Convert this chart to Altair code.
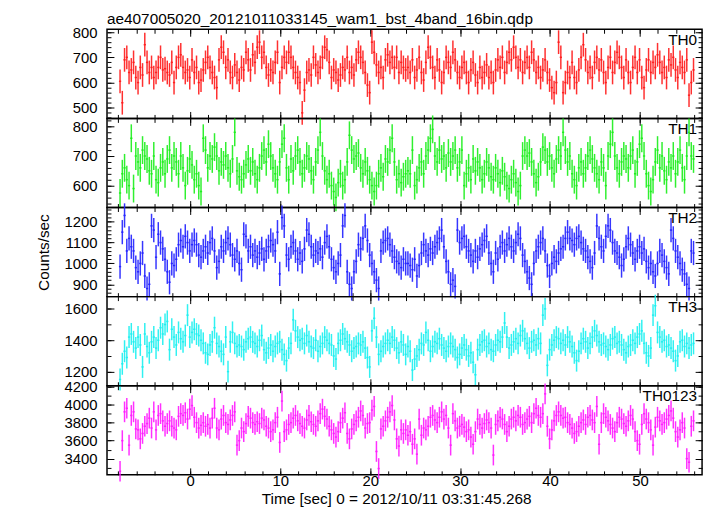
import altair as alt
import pandas as pd

TITLE = "ae407005020_20121011033145_wam1_bst_4band_16bin.qdp"
X_TITLE = "Time [sec] 0 = 2012/10/11 03:31:45.268"
Y_TITLE = "Counts/sec"

T_START = -7.8
BIN = 0.25
X_DOMAIN = [-9.25, 56.9]
X_MAJOR = [0, 10, 20, 30, 40, 50]
X_MINOR = [-8, -6, -4, -2, 0, 2, 4, 6, 8, 10, 12, 14, 16, 18, 20, 22, 24, 26, 28, 30,
           32, 34, 36, 38, 40, 42, 44, 46, 48, 50, 52, 54, 56]

band_names = ["TH0", "TH1", "TH2", "TH3", "TH0123"]
band_colors = ["#ff1a1a", "#1aee1a", "#2020ff", "#1af0f0", "#ff1aff"]
band_errors = [47, 47, 58, 70, 115]
y_domains = [[458, 811], [526, 827], [841, 1268], [1110, 1678], [3220, 4210]]
y_major = [[500, 600, 700, 800], [600, 700, 800], [900, 1000, 1100, 1200],
           [1200, 1400, 1600], [3400, 3600, 3800, 4000, 4200]]
y_minor_step = [20, 20, 20, 100, 100]

th0 = [605,520,690,700,640,650,680,620,600,660,
       630,750,680,640,660,620,640,660,700,650,
       655,640,630,680,600,660,700,710,660,640,
       650,620,690,640,660,600,610,650,680,700,
       660,640,620,580,690,740,720,660,690,640,
       620,670,640,610,660,650,720,690,650,710,
       680,740,760,700,720,660,630,650,640,680,
       720,600,660,700,680,720,700,660,640,620,
       600,480,570,640,650,630,700,670,640,660,
       700,740,730,680,620,650,640,610,630,660,
       650,700,640,660,630,690,720,700,680,640,
       590,560,760,720,670,640,660,620,690,710,
       680,700,660,700,640,680,660,650,
       660,640,690,620,650,700,640,610,680,740,
       700,660,620,690,650,600,640,700,680,660,
       720,690,640,620,660,680,640,600,650,680,
       630,600,660,620,640,670,620,640,600,650,
       690,660,700,640,680,720,690,740,700,660,
       690,640,680,700,660,720,690,640,660,620,
       650,690,640,610,580,560,600,760,700,560,
       600,640,620,680,620,600,650,700,750,690,
       640,660,620,680,700,650,690,640,600,660,
       700,640,680,720,700,660,620,690,640,600,
       660,700,640,690,620,580,650,690,640,680,
       660,710,680,640,660,620,690,670,700,650,
       620,680,660,640,690,550,600,650]

th1 = [575,640,660,620,600,760,590,700,680,660,
       720,700,690,650,640,700,620,610,660,680,
       640,690,720,660,700,680,640,700,660,600,
       650,690,670,620,640,600,580,760,720,660,
       700,690,730,700,650,680,670,700,660,640,
       690,780,650,630,620,640,670,690,650,680,
       640,620,660,700,720,680,740,700,660,640,
       620,680,740,760,660,620,690,650,700,720,
       680,640,660,700,690,650,620,680,720,780,
       700,650,620,640,600,580,560,610,640,600,
       620,680,770,720,690,700,710,660,640,680,
       650,620,600,580,600,640,660,630,690,680,
       720,760,680,620,640,610,630,640,
       650,640,720,600,620,660,680,640,700,720,
       760,790,700,680,720,690,700,660,710,680,
       700,720,660,680,720,600,640,660,620,690,
       650,680,660,620,640,680,660,630,620,660,
       640,610,650,630,600,590,620,640,610,580,
       600,700,720,700,710,680,640,610,630,680,
       730,720,680,700,660,640,690,720,700,780,
       720,680,700,640,620,600,660,680,640,660,
       700,720,690,660,640,620,680,660,600,700,
       740,780,700,660,640,680,700,690,660,700,
       720,640,680,740,760,700,640,600,580,620,
       680,720,660,700,650,620,680,660,700,640,
       680,720,660,620,700,780,700,690]

th2 = [985,1150,1230,1060,1120,1080,1060,980,960,1000,
       1050,940,880,900,1180,1160,1030,1140,1100,1070,
       1020,960,910,1000,990,1020,1090,1110,1080,1130,
       1100,1060,1090,1110,1090,1040,1030,1060,1080,1050,
       1100,1120,1060,980,1010,1080,1060,1100,1120,1090,
       1040,1020,1060,1000,970,1140,1130,1060,1080,1040,
       1060,1030,1050,1070,1020,1060,1080,1110,1090,1060,
       1150,950,1220,1180,1040,1020,1080,1100,1060,1020,
       1050,1010,1070,1160,1140,1080,1040,1060,1050,1070,
       1030,1100,1130,1080,1020,980,960,1000,1040,1180,
       1230,960,900,880,960,1010,1090,1070,1120,1180,
       1110,1040,1000,960,920,880,1060,1100,1110,1120,
       1090,1060,1030,1010,1000,980,1020,1000,
       1000,990,970,1020,940,990,1050,1090,1060,1040,
       1070,1050,1080,1100,1120,1160,1080,1010,960,900,
       920,890,1160,1100,1120,1130,1080,1060,1040,1010,
       1060,1030,1070,1090,1110,1130,1050,1000,960,1050,
       1020,1080,1100,1060,1090,1120,1080,1060,1100,1140,
       1120,1040,1010,960,930,900,1000,1060,1080,1100,
       1120,1060,990,940,1000,1030,1010,1050,1070,1080,
       1120,1150,1120,1110,1090,1120,1130,1100,1070,1060,
       1030,1010,980,1050,1180,1120,1080,1060,1130,1180,
       1160,1100,1060,1050,1030,990,1020,1080,1120,1090,
       1050,1020,1060,1080,1050,1070,1010,980,1000,960,
       940,1000,1060,1040,1010,980,950,1160,1120,1060,
       1030,1000,970,950,900,880,1060,1050]

th3 = [1150,1250,1330,1290,1420,1440,1390,1350,1420,1370,
       1230,1440,1360,1320,1390,1420,1350,1400,1480,1440,
       1500,1520,1340,1470,1420,1370,1450,1410,1390,1430,
       1560,1420,1450,1470,1440,1430,1400,1380,1320,1310,
       1370,1390,1480,1380,1360,1330,1310,1420,1200,1390,
       1450,1380,1360,1370,1360,1340,1390,1410,1420,1390,
       1380,1360,1400,1430,1340,1320,1350,1370,1330,1360,
       1380,1390,1340,1310,1270,1350,1380,1530,1460,1420,
       1400,1410,1380,1430,1390,1360,1350,1400,1330,1360,
       1380,1420,1400,1380,1370,1300,1280,1380,1400,1440,
       1410,1390,1370,1330,1350,1360,1380,1370,1390,1350,
       1290,1230,1460,1540,1420,1310,1330,1360,1380,1400,
       1380,1420,1400,1350,1320,1390,1370,1310,
       1360,1330,1210,1280,1300,1340,1380,1370,1450,1400,
       1330,1360,1390,1380,1410,1370,1350,1330,1360,1380,
       1360,1340,1290,1310,1350,1370,1340,1300,1320,1260,
       1180,1340,1370,1390,1400,1360,1380,1340,1330,1370,
       1400,1390,1420,1510,1420,1350,1370,1390,1410,1380,
       1430,1460,1410,1380,1350,1390,1400,1370,1410,1380,
       1560,1600,1240,1340,1370,1400,1420,1410,1380,1400,
       1370,1420,1390,1360,1320,1270,1330,1380,1410,1390,
       1350,1380,1420,1460,1430,1390,1370,1380,1360,1340,
       1370,1410,1420,1380,1390,1370,1340,1320,1360,1370,
       1400,1380,1420,1440,1460,1380,1320,1300,1350,1560,
       1620,1450,1420,1390,1400,1360,1370,1350,1330,1270,
       1300,1390,1400,1360,1380,1350,1370,1380]

th0123 = [3260,3600,3920,3960,3550,3880,3920,3730,3720,3620,
          3680,3760,3790,3850,3740,3920,3720,3880,3900,3820,
          3760,3790,3820,3760,3740,3720,3870,3900,3880,3910,
          3840,3950,3990,3860,3800,3740,3770,3800,3760,3780,
          3740,3850,3960,3740,3720,3840,3880,3800,3780,3830,
          3880,3920,3550,3600,3740,3700,3790,3870,3850,3800,
          3780,3810,3790,3850,3830,3760,3740,3700,3720,3800,
          3860,3580,4040,3700,3720,3780,3800,3850,3880,3820,
          3790,3760,3740,3830,3880,3810,3780,3760,3820,3900,
          3950,3870,3840,3760,3720,3680,3640,3700,3800,3850,
          3910,3680,3620,3730,3780,3820,3860,3930,3880,3740,
          3790,3800,3940,3980,3480,3290,3730,3760,3820,3860,
          3920,3990,3830,3620,3540,3720,3680,3720,
          3660,3700,3560,3620,3450,3840,3660,3740,3720,3760,
          3860,3880,3830,3800,3860,3920,3840,3880,3740,3550,
          3900,3820,3740,3760,3780,3750,3700,3720,3640,3560,
          3700,3840,3780,3740,3790,3830,3800,3740,3440,3780,
          3820,3860,3840,3780,3700,3760,3840,3860,3820,3880,
          3860,3780,3800,3840,3870,3800,3900,3960,3880,3860,
          3900,4120,3760,3620,3720,3820,3880,3920,3880,3850,
          3860,3800,3780,3740,3680,3700,3760,3800,3830,3780,
          3860,3880,3830,3800,3980,3560,3800,3900,3860,3820,
          3780,3740,3700,3800,3860,3840,3790,3760,3820,3880,
          3840,3700,3600,3560,3780,3900,3840,3800,3720,3550,
          3750,3860,3820,3780,3800,3840,3880,3930,3850,3700,
          3640,3720,3800,3740,3400,3360,3760,3820]

series = [th0, th1, th2, th3, th0123]

W, H = 601, 90
MAJ, MIN = 7, 4
FONT = "Liberation Sans"
FS = 15


def axis(orient, values, size, **kw):
    opts = dict(orient=orient, values=values, tickSize=size, offset=-size,
                domain=False, grid=False, ticks=True, tickColor="#000",
                tickWidth=1, labelOverlap=False, labelFlush=False,
                labelFont=FONT, titleFont=FONT, labelColor="#000",
                titleColor="#000", format="d")
    opts.update(kw)
    if "labels" not in opts:
        opts["labels"] = False
    if "title" not in opts:
        opts["title"] = None
    return alt.Axis(**opts)


def make_panel(k):
    vals = series[k]
    n = len(vals)
    err = band_errors[k]
    df = pd.DataFrame({"t": [T_START + BIN * i for i in range(n)], "v": vals})
    df["lo"] = df["v"] - err
    df["hi"] = df["v"] + err
    df["ta"] = df["t"] - BIN / 2
    df["tb"] = df["t"] + BIN / 2

    lo_d, hi_d = y_domains[k]
    step = y_minor_step[k]
    first = ((lo_d // step) + 1) * step
    minor_y = list(range(int(first), int(hi_d) + 1, step))

    xs = alt.Scale(domain=X_DOMAIN, nice=False, zero=False)
    ys = alt.Scale(domain=y_domains[k], nice=False, zero=False)
    last = k == len(series) - 1
    mid = k == 2
    color = band_colors[k]

    left_kw = dict(labels=True, labelPadding=10, labelFontSize=FS)
    if mid:
        left_kw.update(title=Y_TITLE, titlePadding=13, titleFontSize=15.5,
                       titleFontWeight="normal")
    bottom_kw = {}
    if last:
        bottom_kw = dict(labels=True, labelPadding=-1, labelFontSize=FS,
                         title=X_TITLE, titlePadding=3, titleFontSize=15.5,
                         titleFontWeight="normal", titleX=292)

    yerr = alt.Chart(df).mark_rule(color=color, strokeWidth=1.5, opacity=0.9).encode(
        x=alt.X("t:Q", scale=xs, axis=axis("bottom", X_MAJOR, MAJ, **bottom_kw)),
        y=alt.Y("lo:Q", scale=ys, axis=axis("left", y_major[k], MAJ, **left_kw)),
        y2="hi:Q",
    )
    xerr = alt.Chart(df).mark_rule(color=color, strokeWidth=1.5, opacity=0.9).encode(
        x=alt.X("ta:Q", scale=xs, axis=axis("top", X_MAJOR, MAJ)),
        x2="tb:Q",
        y=alt.Y("v:Q", scale=ys, axis=axis("right", y_major[k], MAJ)),
    )
    one = pd.DataFrame({"t": [X_MAJOR[1]], "v": [y_major[k][0]]})
    minor_a = alt.Chart(one).mark_point(opacity=0).encode(
        x=alt.X("t:Q", scale=xs, axis=axis("bottom", X_MINOR, MIN)),
        y=alt.Y("v:Q", scale=ys, axis=axis("left", minor_y, MIN)),
    )
    minor_b = alt.Chart(one).mark_point(opacity=0).encode(
        x=alt.X("t:Q", scale=xs, axis=axis("top", X_MINOR, MIN)),
        y=alt.Y("v:Q", scale=ys, axis=axis("right", minor_y, MIN)),
    )
    label = alt.Chart(pd.DataFrame({"label": [band_names[k]]})).mark_text(
        align="right", baseline="middle", fontSize=15.5, font=FONT, color="#000"
    ).encode(text="label:N", x=alt.value(W - 5), y=alt.value(10.5))

    panel = alt.layer(yerr, xerr, minor_a, minor_b, label).resolve_axis(
        x="independent", y="independent"
    ).properties(width=W, height=H)
    if k == 0:
        panel = panel.properties(title=alt.TitleParams(
            TITLE, anchor="start", frame="group", fontSize=15.5, font=FONT,
            fontWeight="normal", offset=-2, color="#000"))
    return panel


panels = [make_panel(k) for k in range(len(series))]

chart = alt.vconcat(*panels, spacing=0).properties(
    bounds="flush",
    background="#ffffff",
    padding={"left": 27, "top": 0, "right": 5, "bottom": 0},
).configure_view(
    stroke="#000", strokeWidth=1.5
)

chart.save("out.html", embed_options={"renderer": "svg", "actions": False})
